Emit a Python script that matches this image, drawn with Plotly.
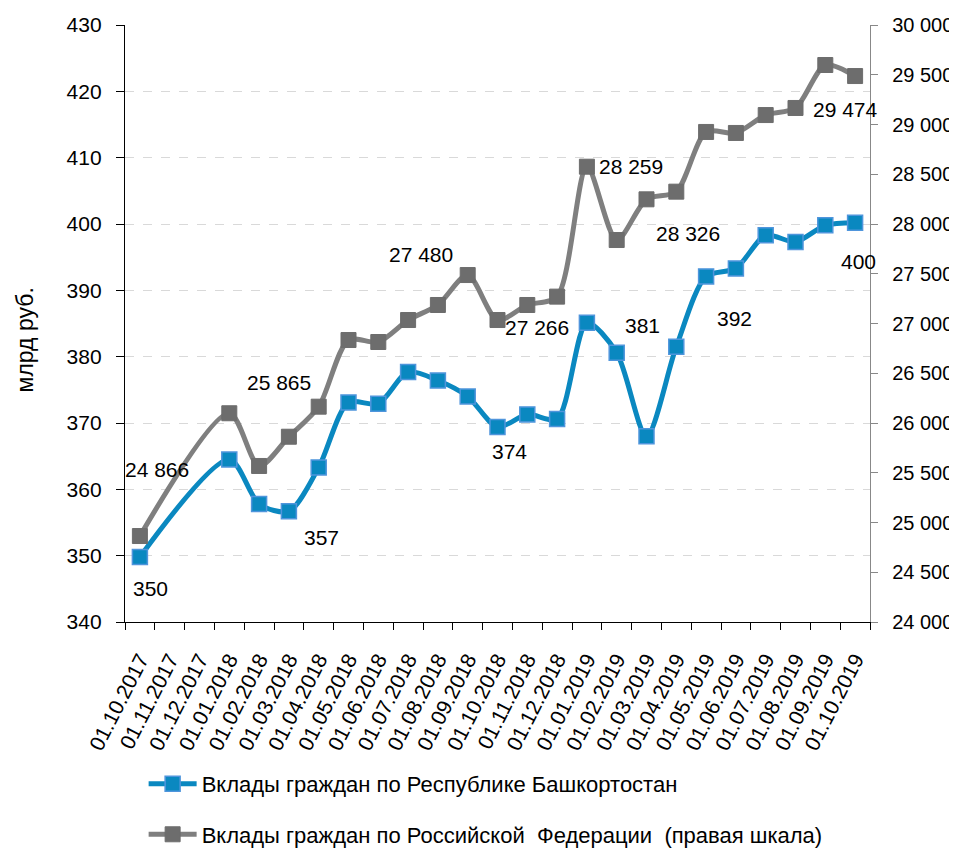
import plotly.graph_objects as go

dates = ["01.10.2017", "01.11.2017", "01.12.2017", "01.01.2018", "01.02.2018", "01.03.2018",
         "01.04.2018", "01.05.2018", "01.06.2018", "01.07.2018", "01.08.2018", "01.09.2018",
         "01.10.2018", "01.11.2018", "01.12.2018", "01.01.2019", "01.02.2019", "01.03.2019",
         "01.04.2019", "01.05.2019", "01.06.2019", "01.07.2019", "01.08.2019", "01.09.2019",
         "01.10.2019"]

bashkortostan = [349.8, None, None, 364.5, 357.8, 356.7, 363.3, 373.1, 372.9, 377.7, 376.4, 374.0,
                 369.4, 371.3, 370.6, 385.1, 380.6, 368.0, 381.5, 392.1, 393.3, 398.3, 397.3,
                 399.8, 400.2]

russia = [24864, None, None, 26098, 25568, 25862, 26164, 26834, 26814, 27035, 27186, 27487,
          27035, 27186, 27270, 28576, 27839, 28248, 28325, 28925, 28915, 29095, 29166,
          29598, 29487]

left_ticks = [340, 350, 360, 370, 380, 390, 400, 410, 420, 430]
right_ticks = [24000, 24500, 25000, 25500, 26000, 26500, 27000, 27500, 28000, 28500, 29000,
               29500, 30000]
right_tick_text = ["24 000", "24 500", "25 000", "25 500", "26 000", "26 500", "27 000",
                   "27 500", "28 000", "28 500", "29 000", "29 500", "30 000"]

name_ba = "Вклады граждан по Республике Башкортостан"
name_ru = "Вклады граждан по Российской  Федерации  (правая шкала)"
y_title = "млрд руб."

# data labels: text, index of category, series, pixel offsets
label_text = ["24 866", "350", "25 865", "357", "27 480", "27 266", "374", "28 259", "381",
              "28 326", "392", "400", "29 474"]
label_idx = [0, 0, 5, 5, 11, 14, 12, 15, 16, 18, 20, 24, 24]
label_series = ["ru", "ba", "ru", "ba", "ru", "ru", "ba", "ru", "ba", "ru", "ba", "ba", "ru"]
label_dx = [17, 11, -10, 33, -47, -20, 12, 44, 26, 12, -1, 3, -10]
label_dy = [67, -32, 54, -26, 21, -31, -25, 0, 27, -42, -50, -39, -33]

FONT = "Liberation Sans, Arial, sans-serif"
BLUE = "#0a88c0"
BLUE_EDGE = "#4f95dc"
GREY = "#7f7f7f"
GREY_M = "#6d6d6d"

fig = go.Figure()
fig.add_trace(go.Scatter(
    x=dates, y=bashkortostan, name=name_ba, mode="lines+markers",
    line=dict(color=BLUE, width=5, shape="spline", smoothing=0.8),
    marker=dict(symbol="square", size=15, color=BLUE, line=dict(color=BLUE_EDGE, width=1.5)),
    connectgaps=True, legendgroup="a", yaxis="y"))
fig.add_trace(go.Scatter(
    x=dates, y=russia, name=name_ru, mode="lines+markers",
    line=dict(color=GREY, width=5, shape="spline", smoothing=0.8),
    marker=dict(symbol="square", size=15, color=GREY_M, line=dict(color=GREY_M, width=1)),
    connectgaps=True, legendgroup="b", yaxis="y2"))

for t, i, s, dx, dy in zip(label_text, label_idx, label_series, label_dx, label_dy):
    yv = bashkortostan[i] if s == "ba" else russia[i]
    fig.add_annotation(x=dates[i], y=yv, yref="y" if s == "ba" else "y2", text=t,
                       showarrow=False, xshift=dx, yshift=dy,
                       font=dict(family=FONT, size=21, color="#000000"))

# y-axis title
fig.add_annotation(xref="paper", yref="paper", x=-0.134, y=0.472, text=y_title,
                   textangle=-90, showarrow=False, xanchor="center", yanchor="middle",
                   font=dict(family=FONT, size=23, color="#000000"))

fig.update_layout(
    width=949, height=844,
    margin=dict(l=117, r=87, t=17, b=230, autoexpand=False),
    paper_bgcolor="white", plot_bgcolor="white",
    font=dict(family=FONT, size=22, color="#000000"),
    showlegend=True,
    legend=dict(x=0.025, y=-0.236, xanchor="left", yanchor="top", orientation="v",
                tracegroupgap=19, font=dict(family=FONT, size=22), itemwidth=48,
                bgcolor="rgba(0,0,0,0)"),
    xaxis=dict(type="category", categoryorder="array", categoryarray=dates,
               tickangle=-63, tickson="boundaries", ticks="outside", ticklen=7,
               tickcolor="#000", showline=True, linecolor="#000", linewidth=1.3,
               showgrid=False, tickfont=dict(size=21), range=[-0.5, 24.5],
               ticklabelstandoff=16, automargin=False),
    yaxis=dict(range=[340, 430], tickvals=left_ticks, ticks="outside", ticklen=8,
               tickcolor="#000", showline=True, linecolor="#000", linewidth=1.3,
               showgrid=True, gridcolor="#d9d9d9", griddash="dash", gridwidth=1,
               zeroline=False, tickfont=dict(size=21), ticklabelstandoff=10,
               automargin=False),
    yaxis2=dict(range=[24000, 30000], tickvals=right_ticks, ticktext=right_tick_text,
                overlaying="y", side="right", ticks="outside", ticklen=7,
                tickcolor="#888", showline=True, linecolor="#888", linewidth=1.3,
                showgrid=False, zeroline=False, tickfont=dict(size=20),
                ticklabelstandoff=10, automargin=False),
)

fig.write_html("out.html")
